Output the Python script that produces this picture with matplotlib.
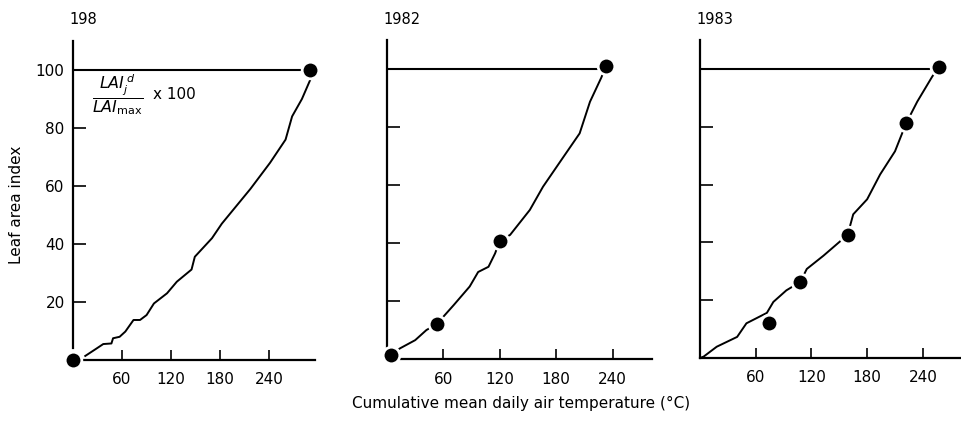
import matplotlib
matplotlib.use("Agg")
import matplotlib.pyplot as plt

plt.rcParams['font.family'] = ['DejaVu Sans']

# 1981 (label reads "198")
x81 = [15, 29, 37, 47, 49, 57, 64, 74, 82, 90, 99, 115, 127, 145, 149, 170, 182, 217, 241, 260, 268, 280, 290]
y81 = [1.4, 4, 5.5, 5.7, 7.5, 8, 9.8, 13.8, 13.8, 15.5, 19.5, 23, 27, 31.2, 35.6, 42, 47, 59, 68, 76, 84, 90, 96.5]
dots81_x = [0, 290]
dots81_y = [0, 100]

# 1982
x82 = [4, 14, 30, 42, 53, 60, 71, 88, 97, 108, 115, 120, 131, 152, 166, 188, 205, 216, 228, 233]
y82 = [1.5, 3.7, 6.5, 10, 12, 14.6, 18.6, 25, 30, 31.8, 36.4, 40.8, 42.8, 51.4, 59.4, 69.8, 77.8, 88.7, 97, 101]
dots82_x = [4, 53, 120, 233]
dots82_y = [1.5, 12, 40.8, 101]

# 1983
x83 = [0, 4, 18, 40, 50, 72, 79, 93, 108, 115, 133, 159, 165, 180, 194, 210, 222, 234, 250, 257]
y83 = [0, 0.5, 3.9, 7.3, 12, 15.6, 19.4, 23.4, 26.3, 30.8, 35.4, 42.6, 49.7, 54.9, 63.5, 71.5, 81.2, 88.7, 97.3, 100.5]
dots83_x = [74, 108, 159, 222, 257]
dots83_y = [12, 26.3, 42.6, 81.2, 100.5]

years = ['198', '1982', '1983']
xticks = [60, 120, 180, 240]
yticks = [20, 40, 60, 80, 100]

fig = plt.figure(figsize=(9.62, 4.22), dpi=100)
W, H = 962, 422
# left px, bottom px, right px, xmax
boxes = [(73, 360, 315, 296), (387, 359, 652, 282), (700, 358, 960, 280)]
top_px = [41, 40, 40]
spine_start = [(4, 10), (4, 12), (0, 0)]

data = [(x81, y81, dots81_x, dots81_y), (x82, y82, dots82_x, dots82_y), (x83, y83, dots83_x, dots83_y)]

for i, ((l, b, r, xmax), (cx, cy, dx, dy)) in enumerate(zip(boxes, data)):
    ax = fig.add_axes([l / W, (H - b) / H, (r - l) / W, (b - top_px[i]) / H])
    ax.set_xlim(0, xmax)
    ax.set_ylim(0, 110)
    for s in ['top', 'right']:
        ax.spines[s].set_visible(False)
    for s in ['left', 'bottom']:
        ax.spines[s].set_linewidth(1.6)
    ax.spines['left'].set_bounds(spine_start[i][0], 110)
    ax.spines['bottom'].set_bounds(spine_start[i][1], xmax)
    ax.set_xticks(xticks)
    ax.set_yticks(yticks)
    ax.tick_params(direction='in', length=9, width=1.2, labelsize=11, pad=6)
    ax.tick_params(axis='x', length=7, pad=9)
    if i > 0:
        ax.set_yticklabels([])
    ax.patch.set_alpha(0)

    # horizontal line at 100
    ax.plot([0, dx[-1]], [100, 100], color='black', lw=1.5, zorder=2)
    ax.plot(cx, cy, color='black', lw=1.4, zorder=2)
    ax.plot(dx, dy, 'o', color='black', ms=12, mec='white', mew=2, zorder=3, clip_on=False)

    fig.text(l / W - 0.004, 1 - 20 / H, years[i], fontsize=10.5, ha='left', va='center')

    if i == 0:
        ax.text(23, 91.4, r'$\dfrac{LAI_{j}^{\,d}}{LAI_{\mathrm{max}}}$', fontsize=11.5, ha='left', va='center')
        ax.text(98, 91.4, 'x 100', fontsize=11, ha='left', va='center')

fig.text(17 / W, 1 - 205 / H, 'Leaf area index', rotation=90, fontsize=11, ha='center', va='center')
fig.text(521 / W, 1 - 403 / H, 'Cumulative mean daily air temperature (°C)', fontsize=11, ha='center', va='center')

fig.savefig('out.png', dpi=100)
